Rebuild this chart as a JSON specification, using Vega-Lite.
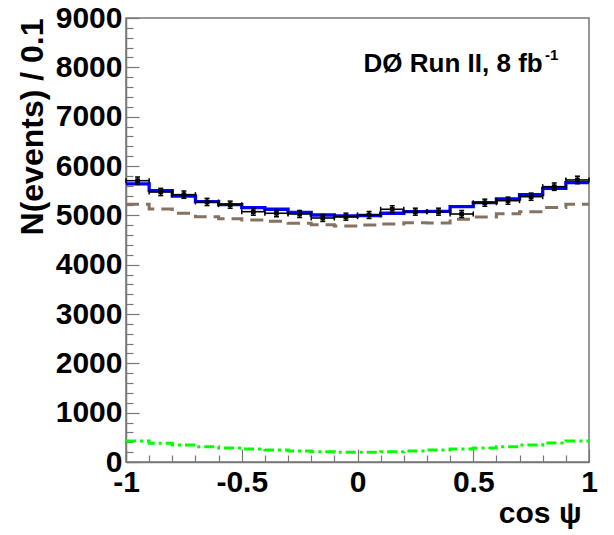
{
  "$schema": "https://vega.github.io/schema/vega-lite/v6.json",
  "width": 463,
  "height": 444,
  "autosize": {"type": "none"},
  "padding": {"left": 126, "top": 18, "right": 25, "bottom": 73},
  "background": "white",
  "config": {
    "view": {"stroke": "#777777", "strokeWidth": 1.5},
    "font": "Liberation Sans"
  },
  "datasets": {
    "bins": [
      {"xc": -0.95, "x0": -1.0, "x1": -0.9, "data": 5702, "lo": 5627, "hi": 5777},
      {"xc": -0.85, "x0": -0.9, "x1": -0.8, "data": 5473, "lo": 5399, "hi": 5547},
      {"xc": -0.75, "x0": -0.8, "x1": -0.7, "data": 5419, "lo": 5345, "hi": 5493},
      {"xc": -0.65, "x0": -0.7, "x1": -0.6, "data": 5271, "lo": 5198, "hi": 5344},
      {"xc": -0.55, "x0": -0.6, "x1": -0.5, "data": 5216, "lo": 5144, "hi": 5288},
      {"xc": -0.45, "x0": -0.5, "x1": -0.4, "data": 5074, "lo": 5003, "hi": 5145},
      {"xc": -0.35, "x0": -0.4, "x1": -0.3, "data": 5042, "lo": 4971, "hi": 5113},
      {"xc": -0.25, "x0": -0.3, "x1": -0.2, "data": 5027, "lo": 4956, "hi": 5098},
      {"xc": -0.15, "x0": -0.2, "x1": -0.1, "data": 4946, "lo": 4876, "hi": 5016},
      {"xc": -0.05, "x0": -0.1, "x1": 0.0, "data": 4973, "lo": 4902, "hi": 5044},
      {"xc": 0.05, "x0": 0.0, "x1": 0.1, "data": 5007, "lo": 4936, "hi": 5078},
      {"xc": 0.15, "x0": 0.1, "x1": 0.2, "data": 5123, "lo": 5051, "hi": 5195},
      {"xc": 0.25, "x0": 0.2, "x1": 0.3, "data": 5074, "lo": 5003, "hi": 5145},
      {"xc": 0.35, "x0": 0.3, "x1": 0.4, "data": 5074, "lo": 5003, "hi": 5145},
      {"xc": 0.45, "x0": 0.4, "x1": 0.5, "data": 5027, "lo": 4956, "hi": 5098},
      {"xc": 0.55, "x0": 0.5, "x1": 0.6, "data": 5256, "lo": 5184, "hi": 5328},
      {"xc": 0.65, "x0": 0.6, "x1": 0.7, "data": 5297, "lo": 5224, "hi": 5370},
      {"xc": 0.75, "x0": 0.7, "x1": 0.8, "data": 5378, "lo": 5305, "hi": 5451},
      {"xc": 0.85, "x0": 0.8, "x1": 0.9, "data": 5581, "lo": 5506, "hi": 5656},
      {"xc": 0.95, "x0": 0.9, "x1": 1.0, "data": 5717, "lo": 5641, "hi": 5793}
    ],
    "curves": [
      {"edge": -1.0, "fit": 5636, "bkg": 5224, "sig": 426},
      {"edge": -0.9, "fit": 5500, "bkg": 5129, "sig": 379},
      {"edge": -0.8, "fit": 5392, "bkg": 5042, "sig": 345},
      {"edge": -0.7, "fit": 5277, "bkg": 4973, "sig": 310},
      {"edge": -0.6, "fit": 5216, "bkg": 4932, "sig": 284},
      {"edge": -0.5, "fit": 5155, "bkg": 4906, "sig": 264},
      {"edge": -0.4, "fit": 5123, "bkg": 4879, "sig": 243},
      {"edge": -0.3, "fit": 5062, "bkg": 4839, "sig": 223},
      {"edge": -0.2, "fit": 5007, "bkg": 4810, "sig": 209},
      {"edge": -0.1, "fit": 4987, "bkg": 4784, "sig": 197},
      {"edge": 0.0, "fit": 4997, "bkg": 4804, "sig": 197},
      {"edge": 0.1, "fit": 5042, "bkg": 4825, "sig": 209},
      {"edge": 0.2, "fit": 5074, "bkg": 4851, "sig": 223},
      {"edge": 0.3, "fit": 5080, "bkg": 4845, "sig": 243},
      {"edge": 0.4, "fit": 5175, "bkg": 4920, "sig": 264},
      {"edge": 0.5, "fit": 5257, "bkg": 4965, "sig": 284},
      {"edge": 0.6, "fit": 5331, "bkg": 5030, "sig": 310},
      {"edge": 0.7, "fit": 5419, "bkg": 5074, "sig": 345},
      {"edge": 0.8, "fit": 5548, "bkg": 5160, "sig": 385},
      {"edge": 0.9, "fit": 5662, "bkg": 5224, "sig": 426},
      {"edge": 1.0, "fit": 5662, "bkg": 5224, "sig": 426}
    ]
  },
  "resolve": {"scale": {"x": "independent", "y": "independent"}},
  "layer": [
    {
      "data": {"name": "curves"},
      "mark": {"type": "point", "opacity": 0},
      "encoding": {
        "x": {
          "field": "edge", "type": "quantitative",
          "scale": {"domain": [-1, 1], "nice": false, "zero": false},
          "axis": {
            "values": [-0.9, -0.8, -0.7, -0.6, -0.4, -0.3, -0.2, -0.1, 0.1, 0.2, 0.3, 0.4, 0.6, 0.7, 0.8, 0.9],
            "orient": "bottom", "labels": false, "domain": false, "grid": false, "title": null,
            "tickSize": -7, "tickColor": "#777777", "tickWidth": 1.2
          }
        },
        "y": {
          "field": "bkg", "type": "quantitative",
          "scale": {"domain": [0, 9000], "nice": false, "zero": true},
          "axis": {
            "values": [200, 400, 600, 800, 1200, 1400, 1600, 1800, 2200, 2400, 2600, 2800, 3200, 3400, 3600, 3800, 4200, 4400, 4600, 4800, 5200, 5400, 5600, 5800, 6200, 6400, 6600, 6800, 7200, 7400, 7600, 7800, 8200, 8400, 8600, 8800],
            "orient": "left", "labels": false, "domain": false, "grid": false, "title": null,
            "tickSize": -7, "tickColor": "#777777", "tickWidth": 1.2
          }
        }
      }
    },
    {
      "layer": [
        {
          "data": {"name": "curves"},
          "mark": {"type": "line", "interpolate": "step-after", "color": "#00ff00", "strokeWidth": 3, "strokeDash": [10, 4, 3, 4]},
          "encoding": {
            "x": {
              "field": "edge", "type": "quantitative",
              "scale": {"domain": [-1, 1], "nice": false, "zero": false},
              "axis": {
                "orient": "bottom",
                "values": [-1, -0.5, 0, 0.5, 1],
                "labelExpr": "replace(format(datum.value, '~g'), '\u2212', '-')",
                "tickSize": -13, "tickColor": "#777777", "tickWidth": 1.2,
                "domainColor": "#777777", "domainWidth": 1.5,
                "grid": false,
                "labelFontSize": 30, "labelFontWeight": "bold", "labelColor": "black",
                "labelPadding": 18, "labelFlush": false, "labelOverlap": false, "labelBaseline": "top",
                "title": "cos ψ", "titleFontSize": 30, "titleFontWeight": "bold", "titleColor": "black",
                "titleAlign": "right", "titleBaseline": "alphabetic", "titleX": 455, "titleY": 60
              }
            },
            "y": {
              "field": "sig", "type": "quantitative",
              "scale": {"domain": [0, 9000], "nice": false, "zero": true},
              "axis": {
                "orient": "left",
                "values": [0, 1000, 2000, 3000, 4000, 5000, 6000, 7000, 8000, 9000],
                "format": "d",
                "tickSize": -13, "tickColor": "#777777", "tickWidth": 1.2,
                "domainColor": "#777777", "domainWidth": 1.5,
                "grid": false,
                "labelFontSize": 30, "labelFontWeight": "bold", "labelColor": "black",
                "labelPadding": 17, "labelFlush": false, "labelOverlap": false,
                "title": "N(events) / 0.1", "titleFontSize": 32, "titleFontWeight": "bold", "titleColor": "black",
                "titleAngle": 270, "titleAlign": "right", "titleBaseline": "alphabetic", "titleX": -84, "titleY": 0
              }
            }
          }
        },
        {
          "data": {"name": "curves"},
          "mark": {"type": "line", "interpolate": "step-after", "color": "#857262", "strokeWidth": 3, "strokeDash": [13, 7]},
          "encoding": {
            "x": {"field": "edge", "type": "quantitative"},
            "y": {"field": "bkg", "type": "quantitative"}
          }
        },
        {
          "data": {"name": "curves"},
          "mark": {"type": "line", "interpolate": "step-after", "color": "#0000ff", "strokeWidth": 3.3},
          "encoding": {
            "x": {"field": "edge", "type": "quantitative"},
            "y": {"field": "fit", "type": "quantitative"}
          }
        },
        {
          "data": {"name": "bins"},
          "mark": {"type": "rule", "color": "black", "strokeWidth": 1.6},
          "encoding": {
            "x": {"field": "x0", "type": "quantitative"},
            "x2": {"field": "x1"},
            "y": {"field": "data", "type": "quantitative"}
          }
        },
        {
          "data": {"name": "bins"},
          "mark": {"type": "rule", "color": "black", "strokeWidth": 1.6},
          "encoding": {
            "x": {"field": "xc", "type": "quantitative"},
            "y": {"field": "lo", "type": "quantitative"},
            "y2": {"field": "hi"}
          }
        },
        {
          "data": {"name": "bins"},
          "mark": {"type": "tick", "orient": "horizontal", "color": "black", "size": 5, "thickness": 1.5, "opacity": 1},
          "encoding": {
            "x": {"field": "xc", "type": "quantitative"},
            "y": {"field": "lo", "type": "quantitative"}
          }
        },
        {
          "data": {"name": "bins"},
          "mark": {"type": "tick", "orient": "horizontal", "color": "black", "size": 5, "thickness": 1.5, "opacity": 1},
          "encoding": {
            "x": {"field": "xc", "type": "quantitative"},
            "y": {"field": "hi", "type": "quantitative"}
          }
        },
        {
          "data": {"name": "bins"},
          "mark": {"type": "tick", "orient": "vertical", "color": "black", "size": 5, "thickness": 1.5, "opacity": 1},
          "encoding": {
            "x": {"field": "x0", "type": "quantitative"},
            "y": {"field": "data", "type": "quantitative"}
          }
        },
        {
          "data": {"name": "bins"},
          "mark": {"type": "tick", "orient": "vertical", "color": "black", "size": 5, "thickness": 1.5, "opacity": 1},
          "encoding": {
            "x": {"field": "x1", "type": "quantitative"},
            "y": {"field": "data", "type": "quantitative"}
          }
        },
        {
          "data": {"name": "bins"},
          "mark": {"type": "point", "shape": "square", "filled": true, "color": "black", "size": 22, "opacity": 1},
          "encoding": {
            "x": {"field": "xc", "type": "quantitative"},
            "y": {"field": "data", "type": "quantitative"}
          }
        },
        {
          "data": {"values": [{}]},
          "mark": {"type": "text", "text": "DØ Run II, 8 fb", "align": "right", "baseline": "alphabetic", "fontSize": 26, "fontWeight": "bold", "color": "black"},
          "encoding": {
            "x": {"datum": 0.80, "type": "quantitative"},
            "y": {"datum": 7906, "type": "quantitative"}
          }
        },
        {
          "data": {"values": [{}]},
          "mark": {"type": "text", "text": "-1", "align": "left", "baseline": "alphabetic", "fontSize": 15, "fontWeight": "bold", "color": "black"},
          "encoding": {
            "x": {"datum": 0.81, "type": "quantitative"},
            "y": {"datum": 8150, "type": "quantitative"}
          }
        }
      ]
    }
  ]
}
